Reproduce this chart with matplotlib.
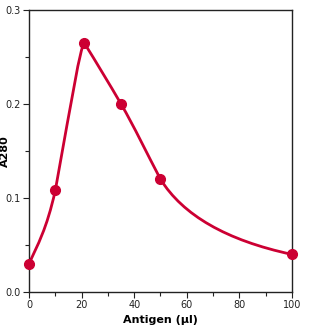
import matplotlib
matplotlib.use("Agg")
import matplotlib.pyplot as plt
from matplotlib.path import Path
from matplotlib.patches import PathPatch

# data
antigen = [0, 10, 21, 35, 50, 100]
a280 = [0.030, 0.108, 0.265, 0.200, 0.120, 0.040]
# slope of the drawn line arriving at / leaving each point (dA/dx)
slope_in = [0.0062, 0.0125, 0.0040, -0.0048, -0.0053, -0.0006]
slope_out = [0.0062, 0.0155, -0.0045, -0.0048, -0.0045, -0.0006]
# bezier handle length for each segment, as a fraction of its width
handle_out = [1 / 3, 0.60, 1 / 3, 1 / 3, 0.17]
handle_in = [1 / 3, 0.15, 1 / 3, 1 / 3, 0.50]

x_ticks = [0, 20, 40, 60, 80, 100]
y_ticks = [0.0, 0.1, 0.2, 0.3]

RED = "#CC0033"


def smooth_path(xs, ys):
    """Cubic bezier pieces through the points, following the drawn tangents."""
    verts = [(xs[0], ys[0])]
    codes = [Path.MOVETO]
    for i in range(len(xs) - 1):
        h = xs[i + 1] - xs[i]
        a = handle_out[i] * h
        b = handle_in[i] * h
        verts.append((xs[i] + a, ys[i] + a * slope_out[i]))
        verts.append((xs[i + 1] - b, ys[i + 1] - b * slope_in[i + 1]))
        verts.append((xs[i + 1], ys[i + 1]))
        codes += [Path.CURVE4] * 3
    return Path(verts, codes)


fig = plt.figure(figsize=(3.11, 3.27), dpi=100)
ax = fig.add_axes([0.0932, 0.107, 0.8457, 0.8624])

ax.add_patch(PathPatch(smooth_path(antigen, a280), fill=False, edgecolor=RED,
                       lw=2, joinstyle="round", clip_on=False))
ax.plot(antigen, a280, "o", color=RED, ms=7, clip_on=False, zorder=3)

ax.set_xlim(0, 100)
ax.set_ylim(0, 0.3)
ax.set_xticks(x_ticks)
ax.set_xticklabels([str(v) for v in x_ticks])
ax.set_xticks([10, 30, 50, 70, 90], minor=True)
ax.set_yticks(y_ticks)
ax.set_yticklabels([f"{v:.1f}" for v in y_ticks])
ax.set_yticks([0.05, 0.15, 0.25], minor=True)

ax.tick_params(which="both", direction="out", labelsize=7, width=0.8,
               color="#222222", labelcolor="#222222", pad=2)
ax.tick_params(which="major", length=4)
ax.tick_params(which="minor", length=3)

for s in ax.spines.values():
    s.set_linewidth(1)
    s.set_color("#222222")

ax.set_xlabel("Antigen (\u00b5l)", fontsize=8, fontweight="bold", labelpad=3)
ax.set_ylabel("A280", fontsize=8, fontweight="bold")
ax.yaxis.set_label_coords(-0.072, 0.5)

fig.savefig("out.png", dpi=100)
